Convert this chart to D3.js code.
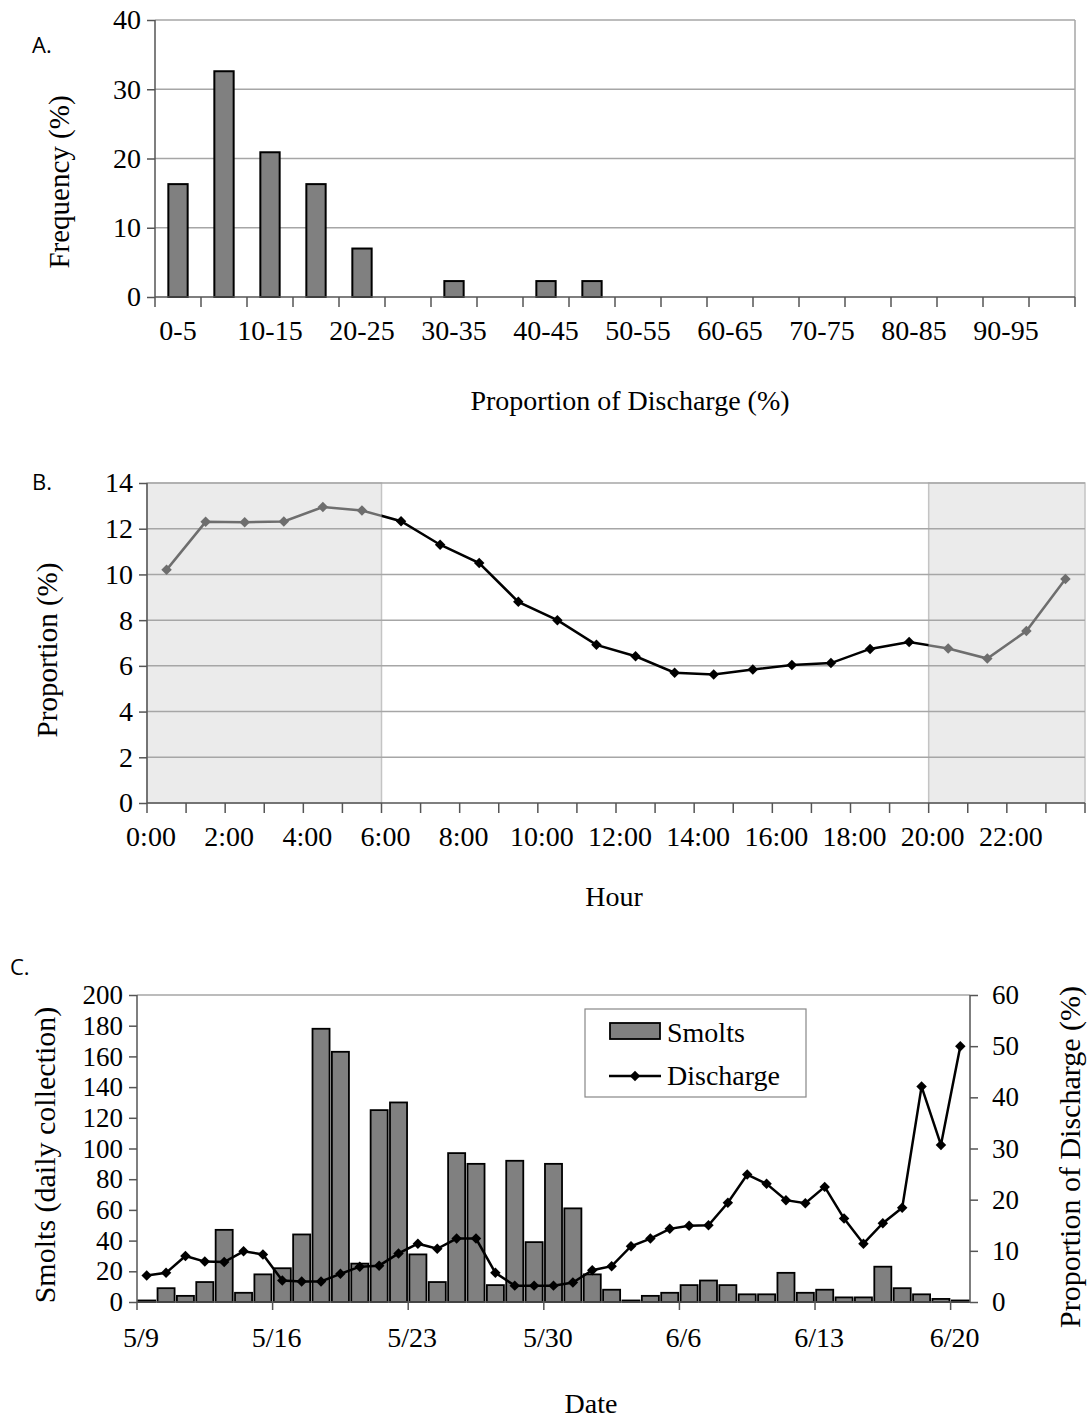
<!DOCTYPE html>
<meta charset="utf-8">
<style>
body { margin: 0; background: #fff; }
text { font-family: "Liberation Serif", "Times New Roman", serif; fill: #000; }
.panel { font-family: "Open Sans", "Liberation Sans", sans-serif; font-size: 22px; }
</style>
<svg width="1088" height="1418"></svg>
<script src="https://d3js.org/d3.v7.min.js"></script>
<script>

// panel A: frequency by proportion of discharge
var aBins = ["0-5","5-10","10-15","15-20","20-25","25-30","30-35","35-40","40-45","45-50",
             "50-55","55-60","60-65","65-70","70-75","75-80","80-85","85-90","90-95","95-100"];
var aFreq = [16.3, 32.6, 20.9, 16.3, 7.0, 0, 2.3, 0, 2.3, 2.3, 0, 0, 0, 0, 0, 0, 0, 0, 0, 0];
var aTicks = [0, 10, 20, 30, 40];

// panel B: hourly proportion
var bHours = ["0:00","1:00","2:00","3:00","4:00","5:00","6:00","7:00","8:00","9:00","10:00","11:00",
              "12:00","13:00","14:00","15:00","16:00","17:00","18:00","19:00","20:00","21:00","22:00","23:00"];
var bProp = [10.2, 12.3, 12.28, 12.32, 12.95, 12.8, 12.33, 11.3, 10.5, 8.8, 8.0, 6.92,
             6.42, 5.7, 5.62, 5.84, 6.04, 6.12, 6.74, 7.04, 6.76, 6.32, 7.52, 9.8];
var bNight = [[0, 6], [20, 24]];
var bTicks = [0, 2, 4, 6, 8, 10, 12, 14];

// panel C: daily smolts and discharge, 5/9 to 6/20
var cDateLabels = ["5/9","5/16","5/23","5/30","6/6","6/13","6/20"];
var cSmolts = [1, 9, 4, 13, 47, 6, 18, 22, 44, 178, 163, 25, 125, 130, 31, 13, 97, 90, 11, 92,
               39, 90, 61, 18, 8, 1, 4, 6, 11, 14, 11, 5, 5, 19, 6, 8, 3, 3, 23, 9, 5, 2, 1];
var cDischarge = [5.2, 5.7, 9.0, 7.9, 7.8, 9.9, 9.3, 4.2, 4.0, 4.0, 5.5, 6.9, 7.1, 9.5, 11.4, 10.4,
                  12.4, 12.4, 5.7, 3.2, 3.2, 3.2, 3.8, 6.2, 7.0, 10.9, 12.4, 14.3, 14.9, 15.0, 19.4,
                  24.9, 23.1, 19.9, 19.3, 22.5, 16.3, 11.4, 15.4, 18.4, 42.1, 30.7, 50.0];
var cLeftTicks = [0, 20, 40, 60, 80, 100, 120, 140, 160, 180, 200];
var cRightTicks = [0, 10, 20, 30, 40, 50, 60];

var svg = d3.select("svg");
var diamond = d3.symbol().type(d3.symbolDiamond2).size(70);

function styleAxis(s, size) {
  s.select(".domain").remove();
  s.selectAll("line").attr("stroke", "#555").attr("stroke-width", 1.5);
  s.selectAll("text").attr("font-family", "Liberation Serif").attr("font-size", size).attr("fill", "#000");
}

// ---------- A ----------
(function() {
  var left = 155, right = 1075, top = 20, bottom = 297;
  var x = d3.scaleBand().domain(aBins).range([left, right]);
  var y = d3.scaleLinear().domain([0, 40]).range([bottom, top]);
  var g = svg.append("g");

  g.selectAll(".grid").data(aTicks.slice(1)).enter().append("line")
    .attr("x1", left).attr("x2", right)
    .attr("y1", function(d) { return y(d); }).attr("y2", function(d) { return y(d); })
    .attr("stroke", "#a6a6a6").attr("stroke-width", 1.5);
  g.append("line").attr("x1", right).attr("x2", right).attr("y1", top).attr("y2", bottom)
    .attr("stroke", "#a6a6a6").attr("stroke-width", 1.5);

  var bw = x.bandwidth() * 0.42;
  var bars = aBins.map(function(b, i) { return {b: b, v: aFreq[i]}; })
    .filter(function(d) { return d.v > 0; });
  g.selectAll("rect.bar").data(bars)
    .enter().append("rect").attr("class", "bar")
    .attr("x", function(d) { return x(d.b) + (x.bandwidth() - bw) / 2; })
    .attr("width", bw)
    .attr("y", function(d) { return y(d.v); })
    .attr("height", function(d) { return bottom - y(d.v); })
    .attr("fill", "#808080").attr("stroke", "#000").attr("stroke-width", 2);

  // axes
  g.append("line").attr("x1", left).attr("x2", left).attr("y1", top).attr("y2", bottom)
    .attr("stroke", "#555").attr("stroke-width", 1.5);
  g.append("line").attr("x1", left).attr("x2", right).attr("y1", bottom).attr("y2", bottom)
    .attr("stroke", "#555").attr("stroke-width", 1.5);
  g.append("g").attr("transform", "translate(" + left + ",0)")
    .call(d3.axisLeft(y).tickValues(aTicks).tickSize(8).tickPadding(6))
    .call(function(s) { styleAxis(s, 28); });
  g.selectAll(".xt").data(d3.range(aBins.length + 1)).enter().append("line")
    .attr("x1", function(i) { return left + i * x.bandwidth(); })
    .attr("x2", function(i) { return left + i * x.bandwidth(); })
    .attr("y1", bottom).attr("y2", bottom + 10).attr("stroke", "#555").attr("stroke-width", 1.5);
  g.selectAll(".xl").data(aBins.filter(function(d, i) { return i % 2 === 0; })).enter().append("text")
    .attr("x", function(d) { return x(d) + x.bandwidth() / 2; }).attr("y", 340)
    .attr("text-anchor", "middle").attr("font-size", 28).text(function(d) { return d; });

  svg.append("text").attr("x", 630).attr("y", 410).attr("text-anchor", "middle")
    .attr("font-size", 28).text("Proportion of Discharge (%)");
  svg.append("text").attr("transform", "translate(69,182) rotate(-90)").attr("text-anchor", "middle")
    .attr("font-size", 29).text("Frequency (%)");
  svg.append("text").attr("class", "panel").attr("x", 32).attr("y", 53).text("A.");
})();

// ---------- B ----------
(function() {
  var left = 147, right = 1085, top = 483, bottom = 803;
  var x = d3.scaleLinear().domain([0, 24]).range([left, right]);
  var y = d3.scaleLinear().domain([0, 14]).range([bottom, top]);
  var g = svg.append("g");

  g.selectAll(".night").data(bNight).enter().append("rect")
    .attr("x", function(d) { return x(d[0]); }).attr("width", function(d) { return x(d[1]) - x(d[0]); })
    .attr("y", top).attr("height", bottom - top)
    .attr("fill", "#ebebeb").attr("stroke", "#c4c4c4").attr("stroke-width", 1.5);

  g.selectAll(".grid").data(bTicks.slice(1)).enter().append("line")
    .attr("x1", left).attr("x2", right)
    .attr("y1", function(d) { return y(d); }).attr("y2", function(d) { return y(d); })
    .attr("stroke", "#a6a6a6").attr("stroke-width", 1.5);

  var pts = bProp.map(function(v, i) { return [x(i + 0.5), y(v)]; });
  var line = d3.line();

  // day segment in black, night segments in grey
  var defs = svg.append("defs");
  defs.append("clipPath").attr("id", "dayClip").append("rect")
    .attr("x", x(6)).attr("width", x(20) - x(6)).attr("y", top - 20).attr("height", bottom - top + 40);
  var nc = defs.append("clipPath").attr("id", "nightClip");
  nc.append("rect").attr("x", x(0) - 20).attr("width", x(6) - x(0) + 20)
    .attr("y", top - 20).attr("height", bottom - top + 40);
  nc.append("rect").attr("x", x(20)).attr("width", x(24) - x(20) + 20)
    .attr("y", top - 20).attr("height", bottom - top + 40);

  g.append("path").attr("d", line(pts)).attr("fill", "none").attr("stroke", "#6e6e6e")
    .attr("stroke-width", 2.5).attr("clip-path", "url(#nightClip)");
  g.append("path").attr("d", line(pts)).attr("fill", "none").attr("stroke", "#000")
    .attr("stroke-width", 2.5).attr("clip-path", "url(#dayClip)");
  g.selectAll(".pt").data(bProp).enter().append("path")
    .attr("d", diamond)
    .attr("transform", function(d, i) { return "translate(" + x(i + 0.5) + "," + y(d) + ")"; })
    .attr("fill", function(d, i) { return (i >= 6 && i < 20) ? "#000" : "#6e6e6e"; });

  g.append("line").attr("x1", left).attr("x2", left).attr("y1", top).attr("y2", bottom)
    .attr("stroke", "#555").attr("stroke-width", 1.5);
  g.append("line").attr("x1", left).attr("x2", right).attr("y1", bottom).attr("y2", bottom)
    .attr("stroke", "#555").attr("stroke-width", 1.5);
  g.append("g").attr("transform", "translate(" + left + ",0)")
    .call(d3.axisLeft(y).tickValues(bTicks).tickSize(8).tickPadding(6))
    .call(function(s) { styleAxis(s, 28); });
  g.selectAll(".xt").data(d3.range(25)).enter().append("line")
    .attr("x1", function(i) { return x(i); }).attr("x2", function(i) { return x(i); })
    .attr("y1", bottom).attr("y2", bottom + 10).attr("stroke", "#555").attr("stroke-width", 1.5);
  g.selectAll(".xl").data(bHours.filter(function(d, i) { return i % 2 === 0; })).enter().append("text")
    .attr("x", function(d, i) { return x(i * 2) + 4; }).attr("y", 846)
    .attr("text-anchor", "middle").attr("font-size", 28).text(function(d) { return d; });

  svg.append("text").attr("x", 614).attr("y", 906).attr("text-anchor", "middle")
    .attr("font-size", 28).text("Hour");
  svg.append("text").attr("transform", "translate(57,650) rotate(-90)").attr("text-anchor", "middle")
    .attr("font-size", 29).text("Proportion (%)");
  svg.append("text").attr("class", "panel").attr("x", 32).attr("y", 490).text("B.");
})();

// ---------- C ----------
(function() {
  var left = 137, right = 970, top = 995, bottom = 1302;
  var x = d3.scaleLinear().domain([0, cSmolts.length]).range([left, right]);
  var yL = d3.scaleLinear().domain([0, 200]).range([bottom, top]);
  var yR = d3.scaleLinear().domain([0, 60]).range([bottom, top]);
  var g = svg.append("g");

  g.append("line").attr("x1", left).attr("x2", right).attr("y1", top).attr("y2", top)
    .attr("stroke", "#a6a6a6").attr("stroke-width", 1.5);

  var bw = (x(1) - x(0)) * 0.88;
  g.selectAll(".bar").data(cSmolts).enter().append("rect")
    .attr("x", function(d, i) { return x(i + 0.5) - bw / 2; })
    .attr("width", bw)
    .attr("y", function(d) { return yL(d); })
    .attr("height", function(d) { return bottom - yL(d); })
    .attr("fill", "#808080").attr("stroke", "#000").attr("stroke-width", 1.8);

  g.append("path").attr("d", d3.line()(cDischarge.map(function(v, i) { return [x(i + 0.5), yR(v)]; })))
    .attr("fill", "none").attr("stroke", "#000").attr("stroke-width", 2.5);
  g.selectAll(".pt").data(cDischarge).enter().append("path")
    .attr("d", diamond)
    .attr("transform", function(d, i) { return "translate(" + x(i + 0.5) + "," + yR(d) + ")"; })
    .attr("fill", "#000");

  g.append("line").attr("x1", left).attr("x2", left).attr("y1", top).attr("y2", bottom)
    .attr("stroke", "#555").attr("stroke-width", 1.5);
  g.append("line").attr("x1", right).attr("x2", right).attr("y1", top).attr("y2", bottom)
    .attr("stroke", "#555").attr("stroke-width", 1.5);
  g.append("line").attr("x1", left).attr("x2", right).attr("y1", bottom).attr("y2", bottom)
    .attr("stroke", "#555").attr("stroke-width", 1.5);
  g.append("g").attr("transform", "translate(" + left + ",0)")
    .call(d3.axisLeft(yL).tickValues(cLeftTicks).tickSize(8).tickPadding(6))
    .call(function(s) { styleAxis(s, 27); });
  g.append("g").attr("transform", "translate(" + right + ",0)")
    .call(d3.axisRight(yR).tickValues(cRightTicks).tickSize(8).tickPadding(14))
    .call(function(s) { styleAxis(s, 27); });

  g.selectAll(".xt").data(cDateLabels).enter().append("line")
    .attr("x1", function(d, i) { return x(i * 7); }).attr("x2", function(d, i) { return x(i * 7); })
    .attr("y1", bottom).attr("y2", bottom + 8).attr("stroke", "#555").attr("stroke-width", 1.5);
  g.selectAll(".xl").data(cDateLabels).enter().append("text")
    .attr("x", function(d, i) { return x(i * 7) + 4; }).attr("y", 1347)
    .attr("text-anchor", "middle").attr("font-size", 28).text(function(d) { return d; });

  // legend
  var lg = g.append("g");
  lg.append("rect").attr("x", 585).attr("y", 1009).attr("width", 221).attr("height", 88)
    .attr("fill", "#fff").attr("stroke", "#888").attr("stroke-width", 1.2);
  lg.append("rect").attr("x", 610).attr("y", 1023).attr("width", 50).attr("height", 16)
    .attr("fill", "#808080").attr("stroke", "#000").attr("stroke-width", 1.8);
  lg.append("text").attr("x", 667).attr("y", 1042).attr("font-size", 28).text("Smolts");
  lg.append("line").attr("x1", 609).attr("x2", 661).attr("y1", 1076).attr("y2", 1076)
    .attr("stroke", "#000").attr("stroke-width", 2.5);
  lg.append("path").attr("d", diamond).attr("transform", "translate(635,1076)");
  lg.append("text").attr("x", 667).attr("y", 1085).attr("font-size", 28).text("Discharge");

  svg.append("text").attr("x", 591).attr("y", 1413).attr("text-anchor", "middle")
    .attr("font-size", 28).text("Date");
  svg.append("text").attr("transform", "translate(55,1155) rotate(-90)").attr("text-anchor", "middle")
    .attr("font-size", 30).text("Smolts (daily collection)");
  svg.append("text").attr("transform", "translate(1080,1157) rotate(-90)").attr("text-anchor", "middle")
    .attr("font-size", 30).text("Proportion of Discharge (%)");
  svg.append("text").attr("class", "panel").attr("x", 10).attr("y", 975).text("C.");
})();
</script>
